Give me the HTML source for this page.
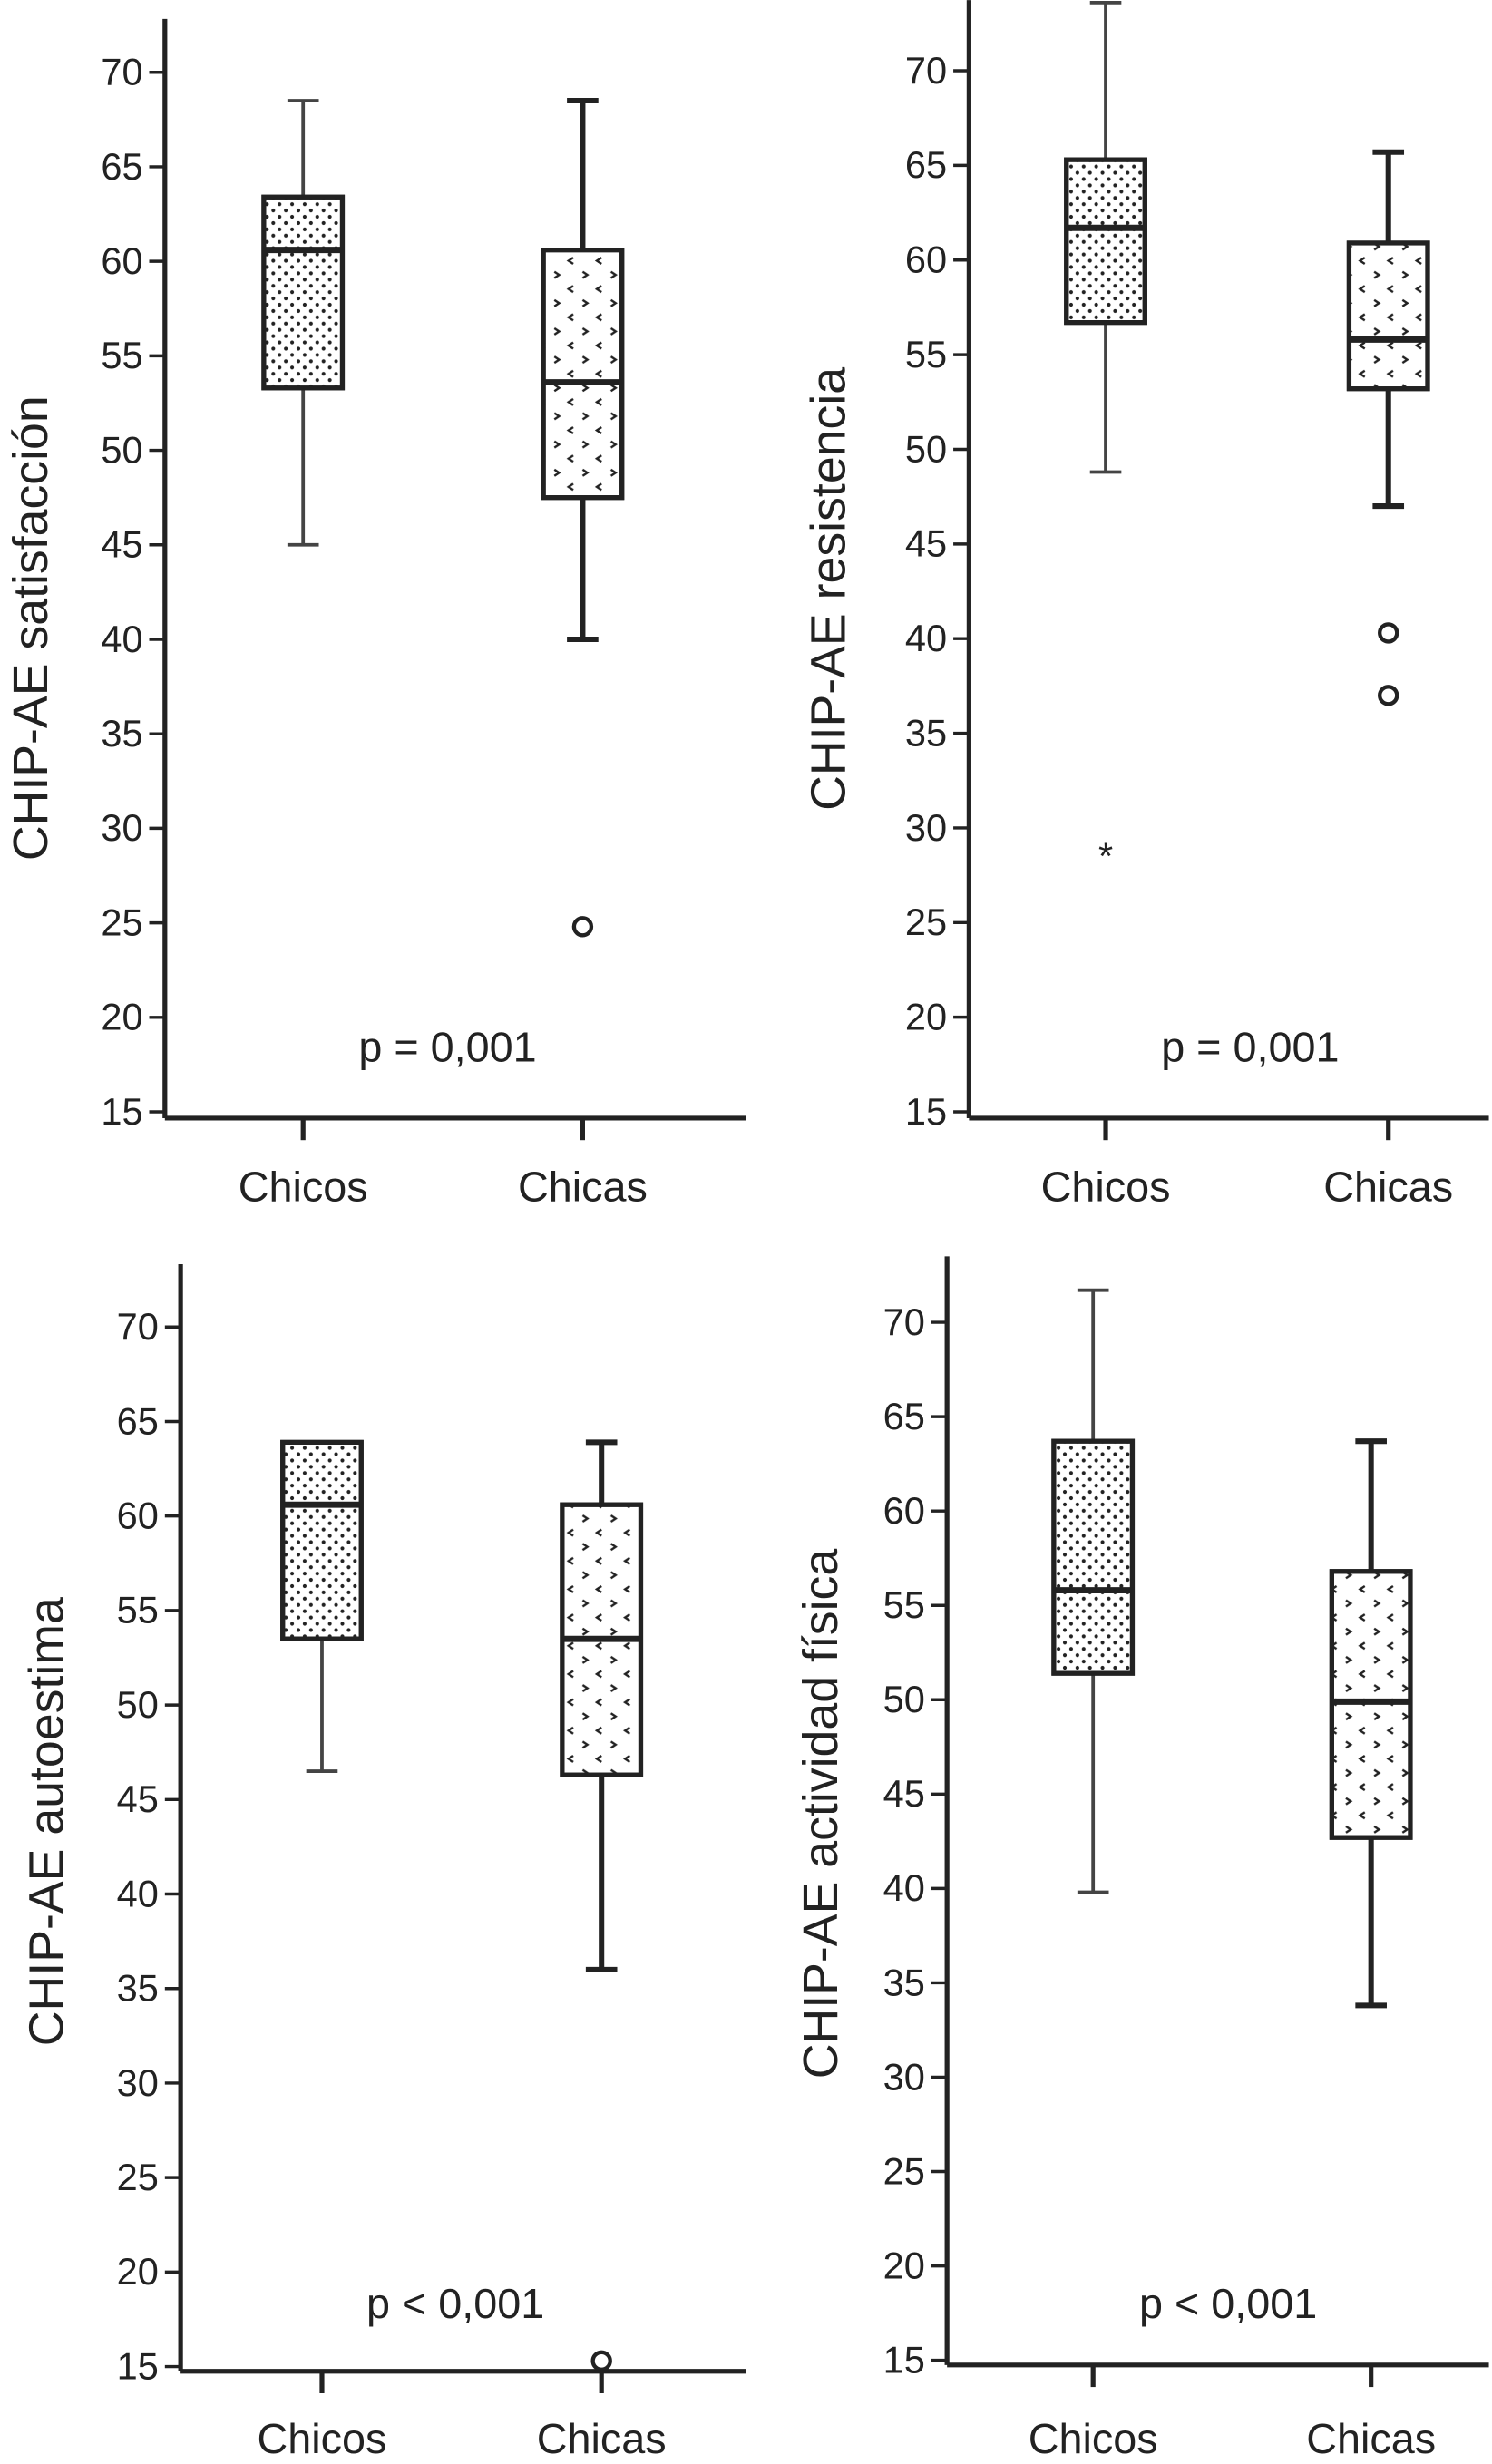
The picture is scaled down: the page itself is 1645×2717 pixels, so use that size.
<!DOCTYPE html>
<html><head><meta charset="utf-8"><style>
html,body{margin:0;padding:0;background:#fff;}
svg{display:block;font-family:"Liberation Sans",sans-serif;}
</style></head><body>
<svg id="chart" width="1645" height="2717" viewBox="0 0 950 1569" xmlns="http://www.w3.org/2000/svg">
<defs>
<pattern id="dots" width="8" height="8" patternUnits="userSpaceOnUse">
<circle cx="2" cy="2" r="1.2" fill="#222"/><circle cx="6" cy="6" r="1.2" fill="#222"/>
</pattern>
<pattern id="chev" width="18" height="18" patternUnits="userSpaceOnUse">
<path d="M5,2 L2,4 L5,6" fill="none" stroke="#222" stroke-width="1.4"/>
<path d="M11,11 L14,13 L11,15" fill="none" stroke="#222" stroke-width="1.4"/>
</pattern>
</defs>
</svg>
<script>
const panelTitles = ["CHIP-AE satisfacción","CHIP-AE resistencia","CHIP-AE autoestima","CHIP-AE actividad física"];
const pLabels = ["p = 0,001","p = 0,001","p < 0,001","p < 0,001"];
const categories = ["Chicos","Chicas"];
const yTicks = [15,20,25,30,35,40,45,50,55,60,65,70];
// [whiskerLow, q1, median, q3, whiskerHigh] per panel per group
const chicosStats = [[45,53.3,60.6,63.4,68.5],[48.8,56.7,61.7,65.3,73.6],[46.5,53.5,60.6,63.9,63.9],[39.8,51.4,55.8,63.7,71.7]];
const chicasStats = [[40,47.5,53.6,60.6,68.5],[47,53.2,55.8,60.9,65.7],[36,46.3,53.5,60.6,63.9],[33.8,42.7,49.9,56.8,63.7]];
const chicosOutliers = [[],[28.8],[],[]];
const chicasOutliers = [[24.8],[40.3,37],[15.3],[]];

const layout = [
 {ax:105, y70:46, y15:708, axisBottom:712, axisTop:12, xEnd:475, cx:[193,371], titleX:30, titleY:400, pX:285, pY:667, labY:765},
 {ax:617, y70:45, y15:708, axisBottom:712, axisTop:0, xEnd:948, cx:[704,884], titleX:538, titleY:375, pX:796, pY:667, labY:765},
 {ax:115, y70:845, y15:1507, axisBottom:1510, axisTop:805, xEnd:475, cx:[205,383], titleX:40, titleY:1160, pX:290, pY:1467, labY:1562},
 {ax:603, y70:842, y15:1503, axisBottom:1506, axisTop:800, xEnd:948, cx:[696,873], titleX:533, titleY:1155, pX:782, pY:1467, labY:1562}
];
const svg = document.getElementById('chart');
const NS = "http://www.w3.org/2000/svg";
function mk(tag, attrs, parent){const e=document.createElementNS(NS,tag);for(const k in attrs)e.setAttribute(k,attrs[k]);parent.appendChild(e);return e;}

layout.forEach((L,i)=>{
  const g = mk('g',{},svg);
  
  
  const y = v => L.y15 + (v-15)*(L.y70-L.y15)/55;
  const ax = mk('line',{x1:L.ax,y1:L.axisTop,x2:L.ax,y2:L.axisBottom,stroke:'#222','stroke-width':3},g);
  
  
  const xa = mk('line',{x1:L.ax,y1:L.axisBottom,x2:L.xEnd,y2:L.axisBottom,stroke:'#222','stroke-width':3},g);
  
  
  yTicks.forEach(t=>{
    const tk = mk('line',{x1:L.ax-10,y1:y(t),x2:L.ax,y2:y(t),stroke:'#222','stroke-width':2},g);
    
    
    const tl = mk('text',{x:L.ax-14,y:y(t)+8,'text-anchor':'end','font-size':24,fill:'#222'},g);
    tl.textContent=t;
    
    
  });
  const ti = mk('text',{x:0,y:0,'text-anchor':'middle','font-size':31,fill:'#222',transform:`translate(${L.titleX},${L.titleY}) rotate(-90)`},g);
  ti.textContent = panelTitles[i];
  
  
  const pt = mk('text',{x:L.pX,y:L.pY+9,'text-anchor':'middle','font-size':27,fill:'#222'},g);
  pt.textContent = pLabels[i];
  
  
  [chicosStats[i],chicasStats[i]].forEach((s,j)=>{
    const cx=L.cx[j], hw=25, thick = j===1;
    const col = thick ? '#222' : '#444', sw = thick?3.5:2.2;
    const tk = mk('line',{x1:cx,y1:L.axisBottom,x2:cx,y2:L.axisBottom+14,stroke:'#222','stroke-width':3},g);
    
    
    const lb = mk('text',{x:cx,y:L.labY,'text-anchor':'middle','font-size':27,fill:'#222'},g);
    lb.textContent = categories[j];
    
    
    const w = mk('line',{x1:cx,y1:y(s[0]),x2:cx,y2:y(s[4]),stroke:col,'stroke-width':sw},g);
    
    
    [s[0],s[4]].forEach(v=>{
      const c = mk('line',{x1:cx-10,y1:y(v),x2:cx+10,y2:y(v),stroke:col,'stroke-width':sw},g);
      
      
    });
    const b = mk('rect',{x:cx-hw,y:y(s[3]),width:hw*2,height:y(s[1])-y(s[3]),fill:'#fff',stroke:'#222','stroke-width':3},g);
    
    
    const bp = mk('rect',{x:cx-hw,y:y(s[3]),width:hw*2,height:y(s[1])-y(s[3]),fill:thick?'url(#chev)':'url(#dots)',stroke:'#222','stroke-width':3},g);
    
    
    const m = mk('line',{x1:cx-hw,y1:y(s[2]),x2:cx+hw,y2:y(s[2]),stroke:'#222','stroke-width':4},g);
    
    
  });
  chicasOutliers[i].forEach(v=>{
    const o = mk('circle',{cx:L.cx[1],cy:y(v),r:5.5,fill:'none',stroke:'#222','stroke-width':2.5},g);
    
    
  });
  chicosOutliers[i].forEach(v=>{
    const o = mk('text',{x:L.cx[0],y:y(v)+12,'text-anchor':'middle','font-size':24,fill:'#222'},g);
    o.textContent='*';
    
    
  });
});
</script>
</body></html>
